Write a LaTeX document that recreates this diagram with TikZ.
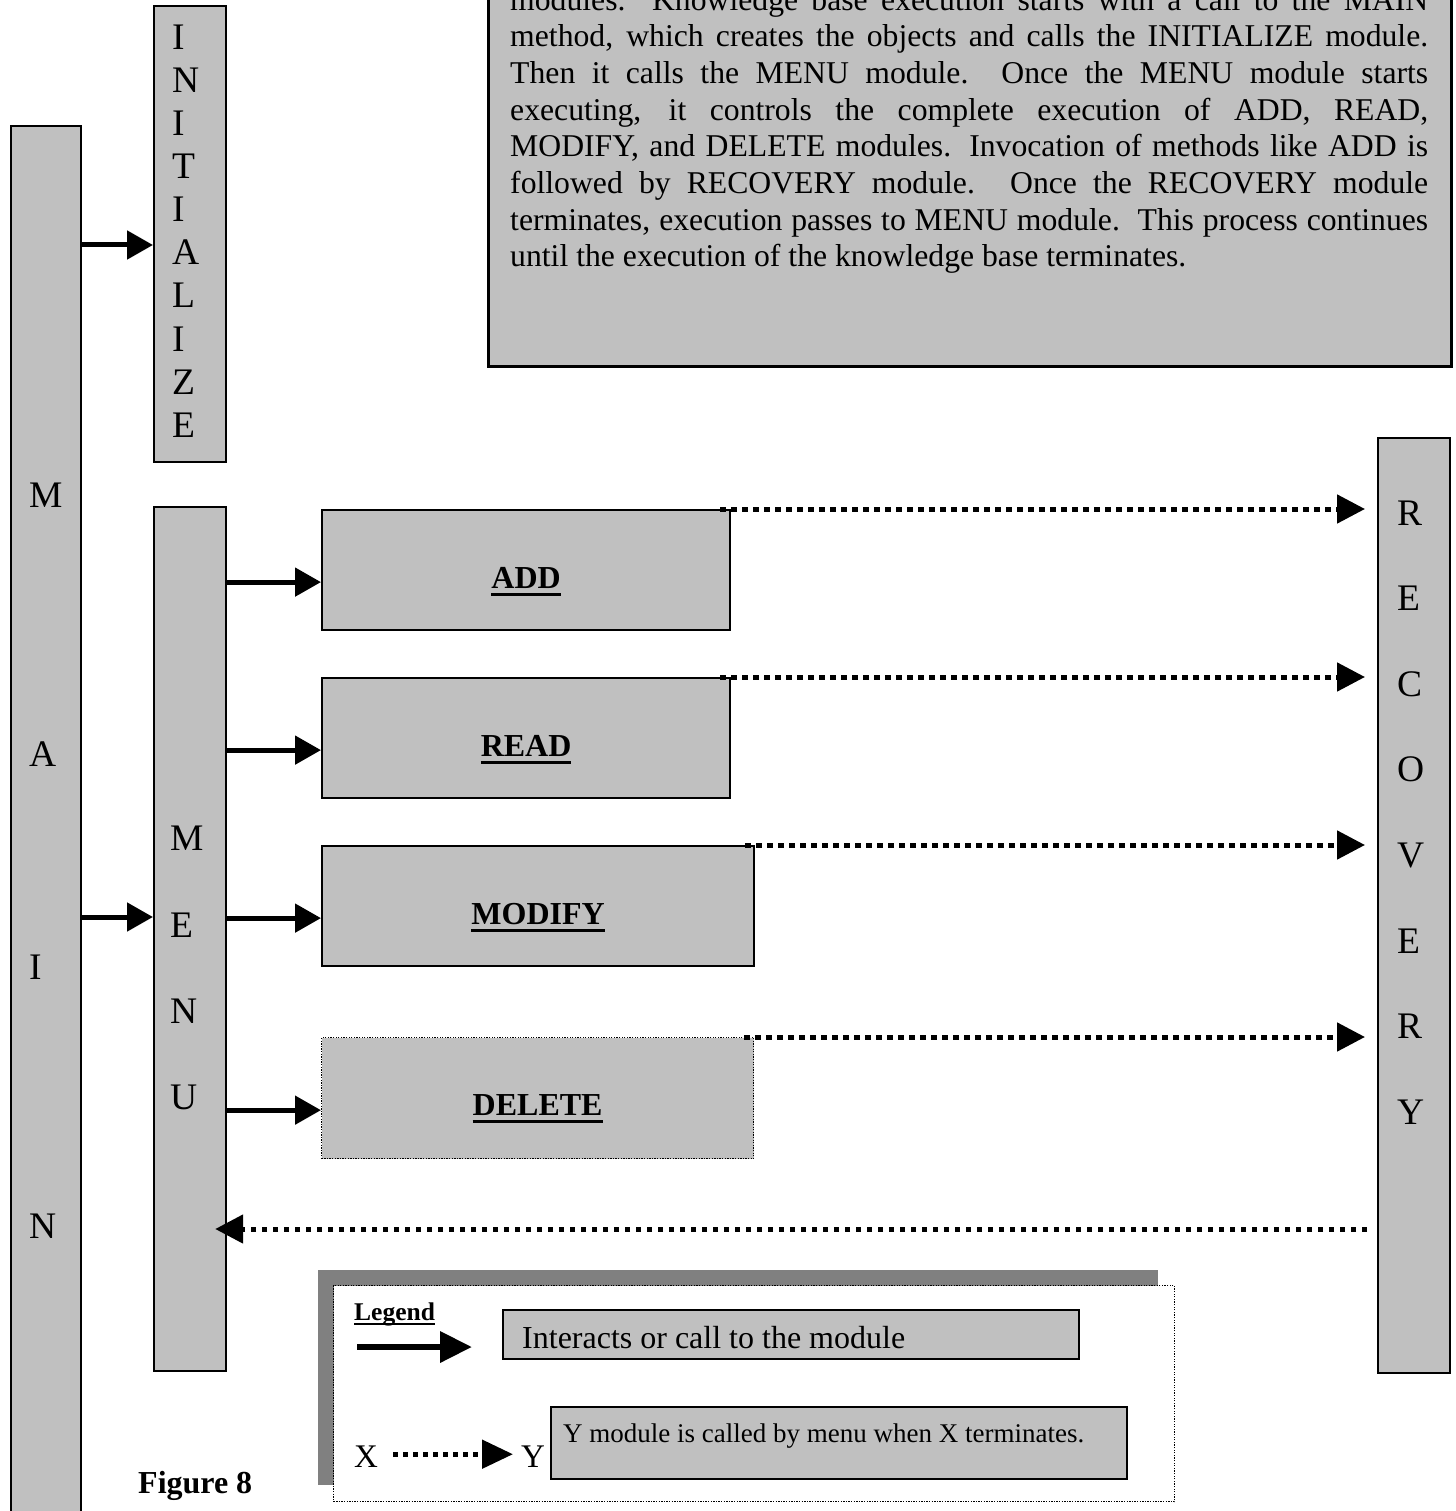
\documentclass[tikz,border=0pt]{standalone}
\usepackage{fontspec}
\setmainfont{Liberation Serif}
\usetikzlibrary{arrows.meta}
\definecolor{boxgray}{HTML}{C0C0C0}
\definecolor{shadowgray}{HTML}{808080}
\newcommand{\ulbox}[3]{\setbox0=\hbox{#1}\rlap{\rule[#2]{\wd0}{#3}}\box0}
\newcommand{\jline}[1]{\hbox to \linewidth{#1}}
\begin{document}
\begin{tikzpicture}[x=1pt,y=-1pt,
  mbox/.style={draw, line width=2.2pt, fill=boxgray, inner sep=0pt, anchor=north west},
  dotbox/.style={draw, line width=1.3pt, dash pattern=on 1.3pt off 1.3pt, fill=boxgray, inner sep=0pt, anchor=north west},
  letter/.style={anchor=base west, inner sep=0pt, font=\fontsize{37.5}{43}\selectfont},
  blabel/.style={anchor=base, inner sep=0pt, font=\fontsize{32}{38}\selectfont\bfseries},
  solidarrow/.style={line width=5pt, -{Triangle[length=26pt,width=28pt]}},
  dotarrow/.style={line width=5pt, dash pattern=on 5.5pt off 5.5pt, -{Triangle[length=28pt,width=28pt]}},
  legsolid/.style={line width=6.7pt, -{Triangle[length=32pt,width=30pt]}},
  legdot/.style={line width=5pt, dash pattern=on 5pt off 5pt, -{Triangle[length=31pt,width=28pt]}},
  txt/.style={anchor=base west, inner sep=0pt}]
\clip (0,0) rectangle (1455,1511);
\fill[white] (0,0) rectangle (1455,1511);

% description box
\node[mbox, line width=2.5pt, minimum width=963pt, minimum height=395pt] (desc) at (487,-30) {};
\node[txt] (desctext) at (510,10.3) {\parbox[t]{918pt}{\fontsize{31.7}{36.67}\selectfont
\jline{modules.\ \ Knowledge base execution starts with a call to the MAIN}
\jline{method, which creates the objects and calls the INITIALIZE module.}
\jline{Then it calls the MENU module.\ \ Once the MENU module starts}
\jline{executing, it controls the complete execution of ADD, READ,}
\jline{MODIFY, and DELETE modules. Invocation of methods like ADD is}
\jline{followed by RECOVERY module. Once the RECOVERY module}
\jline{terminates, execution passes to MENU module.\ \ This process continues}
\hbox{until the execution of the knowledge base terminates.}}};

% module boxes
\node[mbox, minimum width=70pt, minimum height=1420pt] (main) at (10,125) {};
\node[mbox, minimum width=72pt, minimum height=456pt] (init) at (153,5) {};
\node[mbox, minimum width=72pt, minimum height=864pt] (menu) at (153,506) {};
\node[mbox, minimum width=408pt, minimum height=120pt] (add) at (321,509) {};
\node[mbox, minimum width=408pt, minimum height=120pt] (read) at (321,677) {};
\node[mbox, minimum width=432pt, minimum height=120pt] (modify) at (321,845) {};
\node[dotbox, minimum width=432pt, minimum height=121pt] (delete) at (321,1037) {};
\node[mbox, minimum width=72pt, minimum height=935pt] (recovery) at (1377,437) {};

% vertical letters
\foreach \ch [count=\i from 0] in {I,N,I,T,I,A,L,I,Z,E}
  \node[letter] (init\i) at (172,50+43*\i) {\ch};
\foreach \ch/\yy [count=\i] in {M/507,A/766,I/979,N/1238}
  \node[letter] (main\i) at (29,\yy) {\ch};
\foreach \ch/\yy [count=\i] in {M/850,E/937,N/1023,U/1109}
  \node[letter] (menu\i) at (170,\yy) {\ch};
\foreach \ch [count=\i from 0] in {R,E,C,O,V,E,R,Y}
  \node[letter] (rec\i) at (1397,525+85.6*\i) {\ch};

% box labels
\node[blabel] (addlbl) at ([yshift=-18pt]add.center) {\ulbox{ADD}{-8pt}{3.5pt}};
\node[blabel] (readlbl) at ([yshift=-18pt]read.center) {\ulbox{READ}{-8pt}{3.5pt}};
\node[blabel] (modlbl) at ([yshift=-18pt]modify.center) {\ulbox{MODIFY}{-8pt}{3.5pt}};
\node[blabel] (dellbl) at ([yshift=-17pt]delete.center) {\ulbox{DELETE}{-8pt}{3.5pt}};

% solid arrows
\coordinate (yinit) at (0,245);
\coordinate (ymenu) at (0,917);
\draw[solidarrow] (main.east |- yinit) -- (init.west |- yinit);
\draw[solidarrow] (main.east |- ymenu) -- (menu.west |- ymenu);
\foreach \b in {add,read,modify,delete}
  \draw[solidarrow] ([yshift=-12pt]\b.west -| menu.east) -- ([yshift=-12pt]\b.west);

% dotted arrows to recovery
\draw[dotarrow] ([xshift=-11pt]add.north east) -- ([xshift=-12pt]add.north east -| recovery.west);
\draw[dotarrow] ([xshift=-11pt]read.north east) -- ([xshift=-12pt]read.north east -| recovery.west);
\draw[dotarrow] ([xshift=-10pt]modify.north east) -- ([xshift=-12pt]modify.north east -| recovery.west);
\draw[dotarrow] ([xshift=-10pt]delete.north east) -- ([xshift=-12pt]delete.north east -| recovery.west);
% return arrow
\coordinate (retstart) at (1367,1229);
\draw[dotarrow] (retstart) -- ([xshift=-12pt]retstart -| menu.east);

% legend
\node[fill=shadowgray, inner sep=0pt, anchor=north west, minimum width=840pt, minimum height=215pt] (shadow) at (318,1270) {};
\node[draw, fill=white, line width=1.3pt, dash pattern=on 1.3pt off 1.3pt, inner sep=0pt, anchor=north west, minimum width=841pt, minimum height=216pt] (legend) at (333,1285) {};
\node[txt, font=\fontsize{25.5}{30}\selectfont\bfseries] (legtitle) at (354,1320) {\ulbox{Legend}{-5pt}{2.5pt}};
\coordinate (ls) at (357,1347);
\coordinate (le) at (472,1347);
\draw[legsolid] (ls) -- (le);
\node[mbox, minimum width=576pt, minimum height=49pt] (intbox) at (502,1309) {};
\node[txt, font=\fontsize{32}{38}\selectfont] (inttext) at (522,1348) {Interacts or call to the module};
\node[txt, font=\fontsize{33}{38}\selectfont] (xlbl) at (354,1467) {X};
\node[txt, font=\fontsize{33}{38}\selectfont] (ylbl) at (521,1467) {Y};
\draw[legdot] ([xshift=15pt,yshift=2pt]xlbl.east) -- ([xshift=-8pt,yshift=2pt]ylbl.west);
\node[mbox, minimum width=576pt, minimum height=72pt] (ybox) at (550,1406) {};
\node[txt, font=\fontsize{27}{32}\selectfont] (ytext) at (563,1442) {Y module is called by menu when X terminates.};
\node[txt, font=\fontsize{32}{38}\selectfont\bfseries] (fig) at (138,1493) {Figure 8};
\end{tikzpicture}
\end{document}
